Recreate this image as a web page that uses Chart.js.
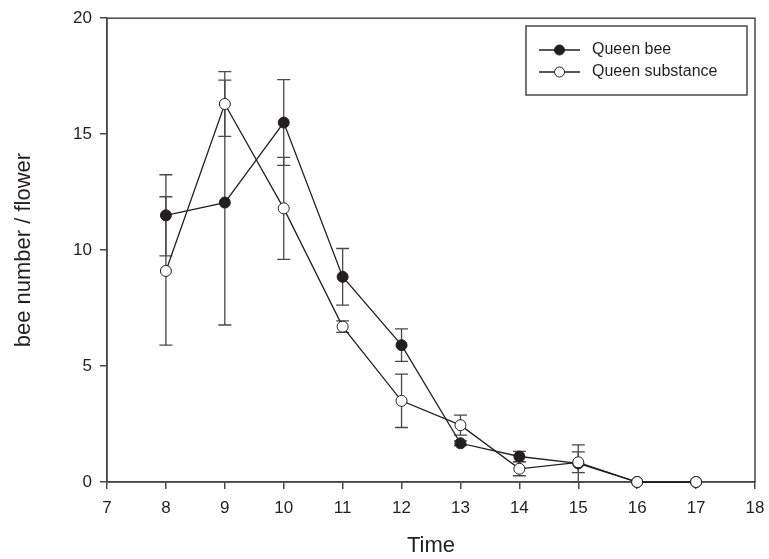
<!DOCTYPE html>
<html>
<head>
<meta charset="utf-8">
<script src="https://cdn.jsdelivr.net/npm/chart.js@4.4.1/dist/chart.umd.min.js"></script>
<style>
  html, body { margin: 0; padding: 0; background: #fff; }
  #wrap { width: 769px; height: 559px; }
</style>
</head>
<body>
<div id="wrap"><canvas id="beeChart" width="769" height="559"></canvas></div>
<script>
// dados
const hours = [8, 9, 10, 11, 12, 13, 14, 15, 16, 17];
const queenBee = [11.5, 12.05, 15.5, 8.85, 5.9, 1.67, 1.1, 0.8, 0, 0];
const queenBeeErr = [1.75, 5.28, 1.85, 1.22, 0.7, 0.1, 0.22, 0.8, 0, 0];
const queenSubstance = [9.1, 16.3, 11.8, 6.7, 3.5, 2.45, 0.57, 0.85, 0, 0];
const queenSubstanceErr = [3.2, 1.4, 2.2, 0.25, 1.15, 0.43, 0.3, 0.45, 0, 0];
const seriesLabels = ['Queen bee', 'Queen substance'];
const yTicks = [0, 5, 10, 15, 20];

const INK = '#231f20';
const AXIS = '#4d4747';
const FONT = "'Liberation Sans', Arial, sans-serif";

const toPoints = (vals) => hours.map((h, i) => ({ x: h, y: vals[i] }));

// barras de erro desenhadas com as escalas do gráfico
const errorBars = {
  id: 'errorBars',
  beforeDatasetsDraw(chart) {
    const { ctx, scales: { x, y } } = chart;
    const errs = [queenBeeErr, queenSubstanceErr];
    ctx.save();
    ctx.strokeStyle = AXIS;
    ctx.lineWidth = 1.3;
    chart.data.datasets.forEach((ds, di) => {
      ds.data.forEach((p, i) => {
        const e = errs[di][i];
        if (!e) return;
        const px = x.getPixelForValue(p.x);
        const top = y.getPixelForValue(p.y + e);
        const bot = y.getPixelForValue(Math.max(0, p.y - e));
        ctx.beginPath();
        ctx.moveTo(px, top); ctx.lineTo(px, bot);
        ctx.moveTo(px - 6.5, top); ctx.lineTo(px + 6.5, top);
        ctx.moveTo(px - 6.5, bot); ctx.lineTo(px + 6.5, bot);
        ctx.stroke();
      });
    });
    ctx.restore();
  }
};

// moldura e legenda dentro da área
const frameLegend = {
  id: 'frameLegend',
  beforeDatasetsDraw(chart) {
    const { ctx, chartArea: a } = chart;
    ctx.save();
    ctx.strokeStyle = AXIS;
    ctx.lineWidth = 1.5;
    ctx.strokeRect(a.left, a.top, a.right - a.left, a.bottom - a.top);
    ctx.restore();
  },
  afterDraw(chart) {
    const { ctx } = chart;
    ctx.save();
    ctx.strokeStyle = AXIS;
    ctx.lineWidth = 1.5;
    ctx.strokeRect(526, 26, 221, 69);
    const rows = [50, 72];
    chart.data.datasets.forEach((ds, i) => {
      const yy = rows[i];
      ctx.strokeStyle = INK;
      ctx.lineWidth = 1.3;
      ctx.beginPath();
      ctx.moveTo(539, yy); ctx.lineTo(580, yy);
      ctx.stroke();
      ctx.beginPath();
      ctx.arc(559.5, yy, 5, 0, Math.PI * 2);
      ctx.fillStyle = ds.pointBackgroundColor;
      ctx.fill();
      ctx.lineWidth = 1;
      ctx.stroke();
      ctx.fillStyle = INK;
      ctx.font = '16px ' + FONT;
      ctx.textBaseline = 'middle';
      ctx.fillText(ds.label, 592, yy);
    });
    ctx.restore();
  }
};

new Chart(document.getElementById('beeChart'), {
  type: 'line',
  data: {
    datasets: [{
      label: seriesLabels[0],
      data: toPoints(queenBee),
      borderColor: INK,
      borderWidth: 1.3,
      pointRadius: 5.5,
      pointBorderWidth: 1,
      pointBorderColor: INK,
      pointBackgroundColor: INK,
      tension: 0,
      clip: false,
      order: 2
    }, {
      label: seriesLabels[1],
      data: toPoints(queenSubstance),
      borderColor: INK,
      borderWidth: 1.3,
      pointRadius: 5.5,
      pointBorderWidth: 1,
      pointBorderColor: INK,
      pointBackgroundColor: '#ffffff',
      tension: 0,
      clip: false,
      order: 1
    }]
  },
  options: {
    responsive: false,
    animation: false,
    layout: { padding: { left: 0, right: 14, top: 15, bottom: 0 } },
    plugins: {
      legend: { display: false },
      tooltip: { enabled: false }
    },
    scales: {
      x: {
        type: 'linear',
        min: 7,
        max: 18,
        afterFit: s => { s.height = 77; },
        ticks: { stepSize: 1, color: INK, font: { family: FONT, size: 17, lineHeight: 1.76 }, padding: 4 },
        grid: { drawOnChartArea: false, color: AXIS, tickLength: 7, lineWidth: 1.5 },
        border: { color: AXIS, width: 1.5 },
        title: { display: true, text: 'Time', color: INK, font: { family: FONT, size: 22 }, padding: { top: 0, bottom: 0 } }
      },
      y: {
        min: 0,
        max: 20,
        afterFit: s => { s.width = 107; },
        afterBuildTicks: s => { s.ticks = yTicks.map(v => ({ value: v })); },
        ticks: { color: INK, font: { family: FONT, size: 17 }, padding: 8 },
        grid: { drawOnChartArea: false, color: AXIS, tickLength: 7, lineWidth: 1.5 },
        border: { color: AXIS, width: 1.5 },
        title: { display: true, text: 'bee number / flower', color: INK, font: { family: FONT, size: 22 }, padding: { top: 11, bottom: 0 } }
      }
    }
  },
  plugins: [errorBars, frameLegend]
});
</script>
</body>
</html>
